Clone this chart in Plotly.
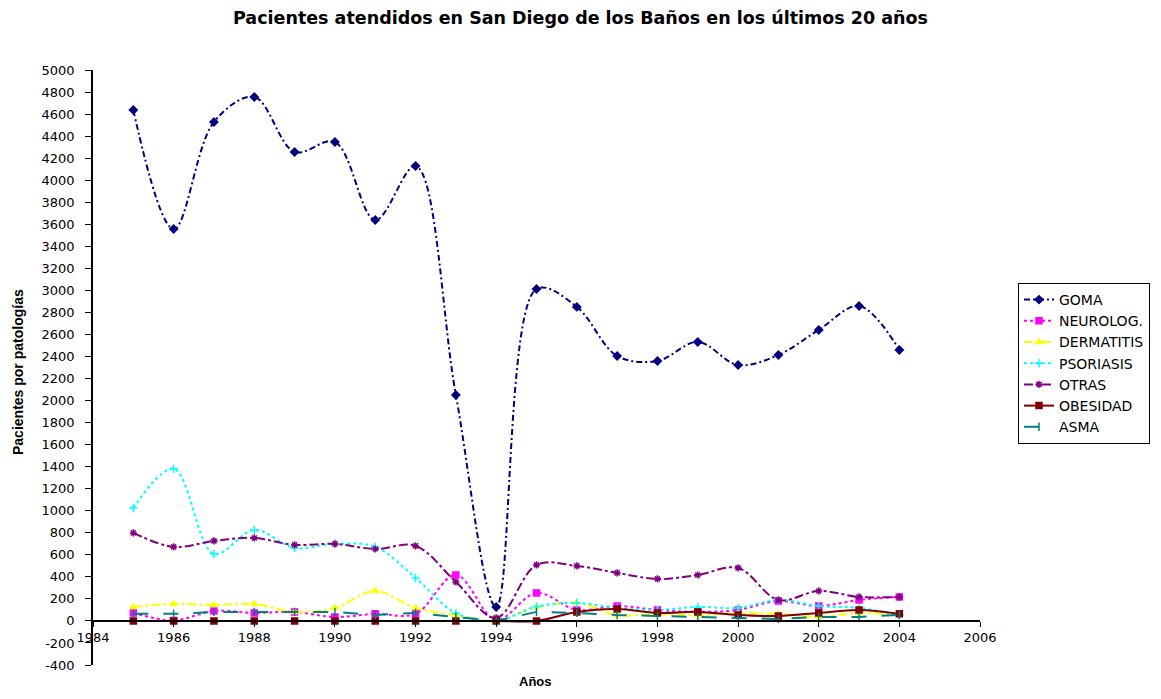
import plotly.graph_objects as go

years = list(range(1985, 2005))

goma = [4637, 3557, 4528, 4755, 4256, 4347, 3639, 4129, 2051, 127,
        3013, 2850, 2405, 2359, 2532, 2323, 2414, 2641, 2858, 2459]
neurolog = [73, 5, 91, 73, 82, 36, 64, 64, 417, 10,
            254, 100, 136, 100, 82, 100, 181, 136, 190, 218]
dermatitis = [127, 154, 145, 154, 82, 118, 272, 118, 54, 0,
              127, 163, 54, 64, 54, 73, 64, 36, 73, 54]
psoriasis = [1025, 1380, 608, 826, 662, 700, 672, 390, 70, 0,
             130, 163, 118, 100, 127, 118, 190, 136, 118, 54]
otras = [799, 672, 726, 753, 690, 699, 653, 681, 354, 27,
         508, 499, 436, 381, 417, 481, 190, 272, 218, 218]
obesidad = [0, 0, 0, 0, 0, 0, 0, 0, 0, 0,
            0, 82, 109, 73, 82, 54, 45, 73, 100, 64]
asma = [64, 64, 82, 82, 82, 82, 54, 73, 36, 0,
        82, 73, 54, 45, 36, 27, 18, 36, 36, 54]

x_ticks = list(range(1984, 2007, 2))
y_ticks = list(range(-400, 5001, 200))

series = [
    ("GOMA", goma, "#000080", "diamond", "6px,3px,2px,3px", "spline"),
    ("NEUROLOG.", neurolog, "#FF00FF", "square", "dot", "spline"),
    ("DERMATITIS", dermatitis, "#FFFF00", "triangle-up", "dashdot", "spline"),
    ("PSORIASIS", psoriasis, "#00FFFF", "cross-thin-open", "dot", "spline"),
    ("OTRAS", otras, "#800080", "asterisk-open", "dashdot", "spline"),
    ("OBESIDAD", obesidad, "#800000", "square", "solid", "spline"),
    ("ASMA", asma, "#008080", "line-ns-open", "longdash", "linear"),
]

fig = go.Figure()
for name, vals, color, sym, dash, shape in series:
    fig.add_trace(go.Scatter(
        x=years, y=vals, name=name, mode="lines+markers",
        line=dict(color=color, width=2, dash=dash, shape=shape, smoothing=1.0),
        marker=dict(symbol=sym, size=6, color=color,
                    line=dict(color=color, width=1.5)),
    ))

sans = "Liberation Sans, Arial, sans-serif"
wide = "DejaVu Sans, Verdana, sans-serif"

W, H = 1145, 683
L, T = 85, 62
R = W - 972
B = H - 657
plot_w = W - L - R
plot_h = H - T - B

fig.update_layout(
    width=W, height=H,
    paper_bgcolor="white", plot_bgcolor="white",
    margin=dict(l=L, r=R, t=T, b=B, autoexpand=False),
    title=dict(text="<b>Pacientes atendidos en San Diego de los Baños en los últimos 20 años</b>",
               x=0.5, xref="container", xanchor="center",
               y=1 - 10 / H, yref="container", yanchor="middle",
               font=dict(family=wide, size=17.5, color="black")),
    font=dict(family=wide, size=12, color="black"),
    showlegend=True,
    legend=dict(x=1010 / W, y=1 - 275 / H, xref="container", yref="container",
                xanchor="left", yanchor="top",
                bordercolor="black", borderwidth=1, bgcolor="white",
                font=dict(family=wide, size=14, color="black"),
                tracegroupgap=0),
    xaxis=dict(range=[1984, 2006], tickvals=x_ticks, ticktext=[str(t) for t in x_ticks],
               showgrid=False, zeroline=False, showline=True, linecolor="black",
               linewidth=1.5, ticks="outside", ticklen=5, tickcolor="black",
               anchor="free", position=400 / 5400, automargin=False,
               tickfont=dict(family=wide, size=13, color="black")),
    yaxis=dict(range=[-400, 5000], tickvals=y_ticks, ticktext=[str(t) for t in y_ticks],
               showgrid=False, zeroline=False, showline=True, linecolor="black",
               linewidth=1.5, ticks="outside", ticklen=6, tickcolor="black",
               ticklabelstandoff=8, automargin=False,
               tickfont=dict(family=wide, size=13, color="black")),
)

fig.add_annotation(text="<b>Pacientes por patologías</b>", xref="paper", yref="paper",
                   x=(10 - L) / plot_w, y=(657 - 364) / plot_h, textangle=-90,
                   xanchor="center", yanchor="middle", showarrow=False,
                   font=dict(family=sans, size=14, color="black"))

fig.add_annotation(text="<b>Años</b>", xref="paper", yref="paper",
                   x=(527 - L) / plot_w, y=-(683 - 657) / plot_h,
                   xanchor="center", yanchor="bottom",
                   showarrow=False, font=dict(family=sans, size=13, color="black"))

fig.write_html("out.html")
